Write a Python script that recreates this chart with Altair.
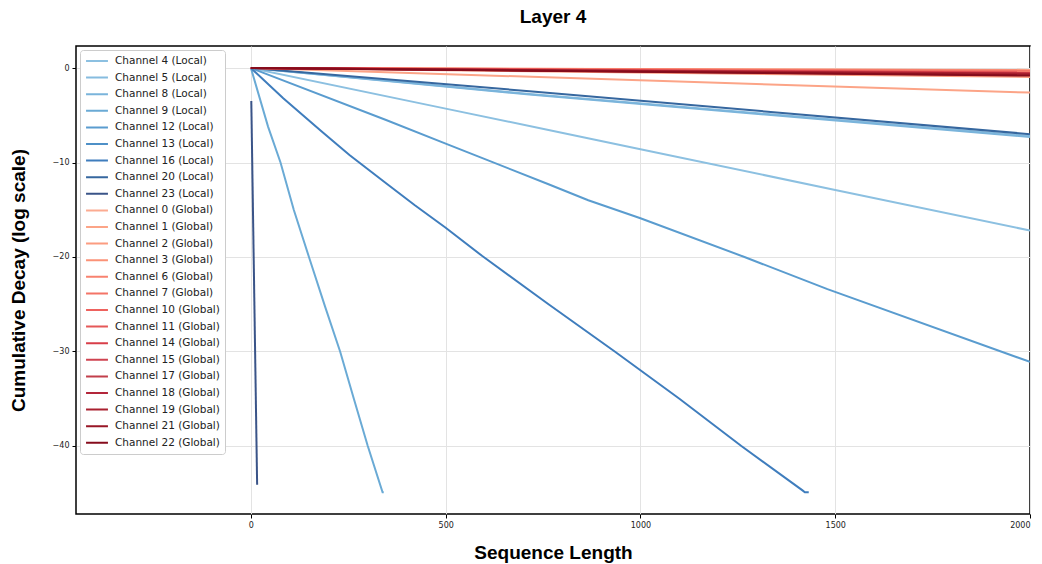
import altair as alt
import pandas as pd

# ---------------- data ----------------
local_names = ["Channel 4 (Local)", "Channel 5 (Local)", "Channel 8 (Local)", "Channel 9 (Local)",
               "Channel 12 (Local)", "Channel 13 (Local)", "Channel 16 (Local)", "Channel 20 (Local)",
               "Channel 23 (Local)"]
global_names = ["Channel 0 (Global)", "Channel 1 (Global)", "Channel 2 (Global)", "Channel 3 (Global)",
                "Channel 6 (Global)", "Channel 7 (Global)", "Channel 10 (Global)", "Channel 11 (Global)",
                "Channel 14 (Global)", "Channel 15 (Global)", "Channel 17 (Global)", "Channel 18 (Global)",
                "Channel 19 (Global)", "Channel 21 (Global)", "Channel 22 (Global)"]

local_colors = ["#8cc0e1", "#86bcdf", "#7ab4db", "#6aaad5", "#5a9ccf", "#4e90c7", "#3f7dbd",
                "#36679f", "#3a5488"]
global_colors = ["#fcab91", "#fca487", "#fc9c80", "#fb9277", "#f8826f", "#f47467", "#ee625e",
                 "#e55858", "#d83e49", "#cf4350", "#c23f4b", "#b3263a", "#a9202f", "#981626",
                 "#860c1c"]

# local channels: sequence length (x) and cumulative log decay (y)
ch4_x = [0, 500, 764, 1000, 1500, 2000]
ch4_y = [0, -4.3, -6.55, -8.6, -12.9, -17.2]
ch5_x = [0, 715, 2000]
ch5_y = [0, -2.75, -7.2]
ch8_x = [0, 715, 2000]
ch8_y = [0, -2.8, -7.3]
ch9_x = [0, 44, 76, 110, 149, 190, 229, 265, 300, 338, 341]
ch9_y = [0, -6.2, -10.0, -15.0, -20.0, -25.2, -30.0, -35.1, -40.0, -44.9, -44.9]
ch12_x = [0, 347, 500, 764, 866, 1000, 1267, 1480, 2000]
ch12_y = [0, -5.5, -8.0, -12.3, -14.0, -15.9, -20.0, -23.4, -31.1]
ch13_x = [0, 2000]
ch13_y = [0, -0.6]
ch16_x = [0, 83, 181, 253, 347, 420, 500, 594, 764, 934, 1100, 1259, 1416, 1422, 1432]
ch16_y = [0, -3.2, -6.7, -9.2, -12.2, -14.5, -16.9, -19.9, -25.0, -30.0, -35.0, -40.0, -44.7,
          -44.9, -44.9]
ch20_x = [0, 715, 2000]
ch20_y = [0, -2.45, -7.0]
ch23_x = [1, 16]
ch23_y = [-3.5, -44.1]

local_x = [ch4_x, ch5_x, ch8_x, ch9_x, ch12_x, ch13_x, ch16_x, ch20_x, ch23_x]
local_y = [ch4_y, ch5_y, ch8_y, ch9_y, ch12_y, ch13_y, ch16_y, ch20_y, ch23_y]

# global channels: nearly flat lines from 0 to 2000
global_x = [0, 2000]
global_end = [-0.2, -2.6, -0.95, -0.25, -0.35, -0.3, -0.45, -0.55, -0.5, -0.6, -0.65, -0.7,
              -0.6, -0.75, -0.8]

x_ticks = [0, 500, 1000, 1500, 2000]
y_ticks = [-40, -30, -20, -10, 0]

# ---------------- table ----------------
rows = []
for name, xs, ys in zip(local_names, local_x, local_y):
    for i, (xv, yv) in enumerate(zip(xs, ys)):
        rows.append({"Channel": name, "x": xv, "y": yv, "i": i})
for name, end in zip(global_names, global_end):
    for i, (xv, yv) in enumerate(zip(global_x, [0, end])):
        rows.append({"Channel": name, "x": xv, "y": yv, "i": i})
df = pd.DataFrame(rows)

names = local_names + global_names
colors = local_colors + global_colors

W, H = 954, 468

chart = alt.Chart(df).mark_line(strokeWidth=2, clip=True).encode(
    x=alt.X("x:Q",
            scale=alt.Scale(domain=[-449, 2000], nice=False, zero=False),
            axis=alt.Axis(values=x_ticks, format="d", title="Sequence Length", titleY=38,
                          titleBaseline="middle")),
    y=alt.Y("y:Q",
            scale=alt.Scale(domain=[-47.2, 2.33], nice=False, zero=False),
            axis=alt.Axis(values=y_ticks, format="d", title="Cumulative Decay (log scale)",
                          titleX=-58, titleY=H / 2, titleBaseline="middle",
                          titleAlign="center")),
    color=alt.Color("Channel:N",
                    scale=alt.Scale(domain=names, range=colors),
                    legend=alt.Legend(title=None, orient="top-left", offset=4,
                                      symbolType="stroke", symbolSize=480,
                                      symbolStrokeWidth=2, clipHeight=12,
                                      rowPadding=4.6, labelFontSize=10.5,
                                      labelFont="DejaVu Sans", labelColor="#222222",
                                      labelOffset=6, labelLimit=300,
                                      fillColor="white", strokeColor="#cccccc",
                                      cornerRadius=3, padding=5)),
    order=alt.Order("i:Q"),
).properties(
    width=W, height=H,
    title=alt.TitleParams("Layer 4", fontSize=19, font="Liberation Sans", fontWeight="bold",
                          anchor="middle", offset=4, baseline="alphabetic",
                          color="#000000"),
    autosize=alt.AutoSizeParams(type="none"),
    padding={"left": 68, "top": 38, "right": 3, "bottom": 50},
).configure_view(
    stroke="black", strokeWidth=1.5
).configure_axis(
    domain=False, grid=True, gridColor="#e3e3e3", gridWidth=1,
    tickColor="black", tickSize=4, tickWidth=1,
    labelFont="DejaVu Sans", labelFontSize=8, labelColor="#222222", labelPadding=3,
    titleFont="Liberation Sans", titleFontSize=19, titleFontWeight="bold", titleColor="#000000",
)

chart.save("out.html", embed_options={"renderer": "svg", "actions": False})
